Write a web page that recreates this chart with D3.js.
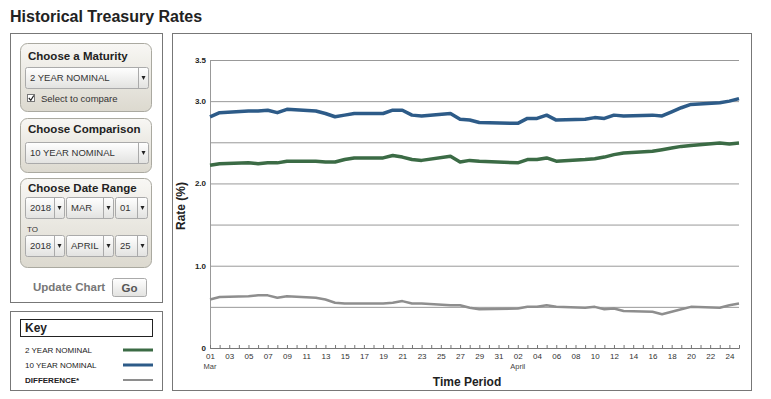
<!DOCTYPE html>
<html>
<head>
<meta charset="utf-8">
<script src="https://cdn.jsdelivr.net/npm/d3@7"></script>
<style>
  body { margin: 0; background: #fff; font-family: "Liberation Sans", Arial, sans-serif; }
  svg text { font-family: "Liberation Sans", Arial, sans-serif; }
</style>
</head>
<body>
<div id="chart"></div>
<script>
// trading days shown on the chart (2018)
var dates = [
  "2018-03-01", "2018-03-02", "2018-03-05", "2018-03-06", "2018-03-07", "2018-03-08", "2018-03-09",
  "2018-03-12", "2018-03-13", "2018-03-14", "2018-03-15", "2018-03-16",
  "2018-03-19", "2018-03-20", "2018-03-21", "2018-03-22", "2018-03-23",
  "2018-03-26", "2018-03-27", "2018-03-28", "2018-03-29",
  "2018-04-02", "2018-04-03", "2018-04-04", "2018-04-05", "2018-04-06",
  "2018-04-09", "2018-04-10", "2018-04-11", "2018-04-12", "2018-04-13",
  "2018-04-16", "2018-04-17", "2018-04-18", "2018-04-19", "2018-04-20",
  "2018-04-23", "2018-04-24", "2018-04-25"
];
var tenYear = [
  2.81, 2.86, 2.88, 2.88, 2.89, 2.86, 2.90,
  2.88, 2.85, 2.81, 2.83, 2.85,
  2.85, 2.89, 2.89, 2.83, 2.82,
  2.85, 2.78, 2.77, 2.74,
  2.73, 2.79, 2.79, 2.83, 2.77,
  2.78, 2.80, 2.79, 2.83, 2.82,
  2.83, 2.82, 2.87, 2.92, 2.96,
  2.98, 3.00, 3.03
];
var twoYear = [
  2.22, 2.24, 2.25, 2.24, 2.25, 2.25, 2.27,
  2.27, 2.26, 2.26, 2.29, 2.31,
  2.31, 2.34, 2.32, 2.29, 2.28,
  2.33, 2.26, 2.28, 2.27,
  2.25, 2.29, 2.29, 2.31, 2.27,
  2.29, 2.30, 2.32, 2.35, 2.37,
  2.39, 2.41, 2.43, 2.45, 2.46,
  2.49, 2.48, 2.49
];
var difference = [
  0.59, 0.62, 0.63, 0.64, 0.64, 0.61, 0.63,
  0.61, 0.59, 0.55, 0.54, 0.54,
  0.54, 0.55, 0.57, 0.54, 0.54,
  0.52, 0.52, 0.49, 0.47,
  0.48, 0.50, 0.50, 0.52, 0.50,
  0.49, 0.50, 0.47, 0.48, 0.45,
  0.44, 0.41, 0.44, 0.47, 0.50,
  0.49, 0.52, 0.54
];
var yTicks = [0, 0.5, 1, 1.5, 2, 2.5, 3, 3.5];
var yLabels = { "0": "0", "1": "1.0", "2": "2.0", "3": "3.0", "3.5": "3.5" };
var keyLabels = ["2 YEAR NOMINAL", "10 YEAR NOMINAL", "DIFFERENCE*"];
var keyColors = ["#3b6b45", "#2d5b88", "#8e8e8e"];

var width = 771, height = 399;
var svg = d3.select("#chart").append("svg").attr("width", width).attr("height", height);

var defs = svg.append("defs");
var pg = defs.append("linearGradient").attr("id", "panelGrad").attr("x1", 0).attr("y1", 0).attr("x2", 0).attr("y2", 1);
pg.append("stop").attr("offset", "0%").attr("stop-color", "#f8f7f4");
pg.append("stop").attr("offset", "100%").attr("stop-color", "#dcd9cf");
var sg = defs.append("linearGradient").attr("id", "selGrad").attr("x1", 0).attr("y1", 0).attr("x2", 0).attr("y2", 1);
sg.append("stop").attr("offset", "0%").attr("stop-color", "#ffffff");
sg.append("stop").attr("offset", "100%").attr("stop-color", "#e2e2e0");

// title
svg.append("text").attr("x", 10).attr("y", 22).text("Historical Treasury Rates")
  .style("font-size", "16px").style("font-weight", "bold").style("fill", "#222");

// left control panel
svg.append("rect").attr("x", 10.5).attr("y", 33.5).attr("width", 152).attr("height", 269)
  .style("fill", "#fff").style("stroke", "#777");

// rounded panel with bold heading; dy = heading baseline offset
function panel(y, h, title, dy) {
  svg.append("rect").attr("x", 20.5).attr("y", y + 0.5).attr("width", 131).attr("height", h)
    .attr("rx", 7).style("fill", "url(#panelGrad)").style("stroke", "#aaa9a0");
  svg.append("text").attr("x", 28).attr("y", y + dy).text(title)
    .style("font-size", "11.5px").style("font-weight", "bold").style("fill", "#222");
}

function selectBox(x, y, w, label) {
  svg.append("rect").attr("x", x + 0.5).attr("y", y + 0.5).attr("width", w).attr("height", 21)
    .attr("rx", 2).style("fill", "url(#selGrad)").style("stroke", "#aaa");
  svg.append("line").attr("x1", x + w - 9.5).attr("x2", x + w - 9.5).attr("y1", y + 1).attr("y2", y + 21)
    .style("stroke", "#aaa");
  svg.append("path")
    .attr("d", "M" + (x + w - 6.5) + "," + (y + 9) + "l4,0l-2,4z")
    .style("fill", "#222");
  svg.append("text").attr("x", x + 5).attr("y", y + 14).text(label)
    .style("font-size", "9.5px").style("fill", "#333");
}

panel(43, 68, "Choose a Maturity", 16.5);
selectBox(25, 67, 123, "2 YEAR NOMINAL");
svg.append("rect").attr("x", 27.5).attr("y", 94.5).attr("width", 7).attr("height", 7)
  .style("fill", "#fff").style("stroke", "#777");
svg.append("path").attr("d", "M28.8,98 l2,2.3 l3,-4.8").style("fill", "none").style("stroke", "#222").style("stroke-width", 1.2);
svg.append("text").attr("x", 41).attr("y", 102).text("Select to compare")
  .style("font-size", "9.5px").style("fill", "#333");

panel(118, 54, "Choose Comparison", 15);
selectBox(25, 142, 123, "10 YEAR NOMINAL");

panel(178, 89, "Choose Date Range", 14);
selectBox(25, 197, 39, "2018");
selectBox(66, 197, 47, "MAR");
selectBox(115, 197, 32, "01");
svg.append("text").attr("x", 27).attr("y", 232).text("TO").style("font-size", "8px").style("fill", "#333");
selectBox(25, 235, 39, "2018");
selectBox(66, 235, 47, "APRIL");
selectBox(115, 235, 32, "25");

svg.append("text").attr("x", 33).attr("y", 291).text("Update Chart")
  .style("font-size", "11.5px").style("font-weight", "bold").style("fill", "#777");
svg.append("rect").attr("x", 112.5).attr("y", 278.5).attr("width", 34).attr("height", 18).attr("rx", 2)
  .style("fill", "url(#selGrad)").style("stroke", "#aaa");
svg.append("text").attr("x", 129.5).attr("y", 291.5).attr("text-anchor", "middle").text("Go")
  .style("font-size", "11.5px").style("font-weight", "bold").style("fill", "#555");

// key box
svg.append("rect").attr("x", 10.5).attr("y", 311.5).attr("width", 152).attr("height", 79)
  .style("fill", "#fff").style("stroke", "#777");
svg.append("rect").attr("x", 20.5).attr("y", 319.5).attr("width", 132).attr("height", 17)
  .style("fill", "#fff").style("stroke", "#222");
svg.append("text").attr("x", 25).attr("y", 332).text("Key")
  .style("font-size", "12px").style("font-weight", "bold").style("fill", "#222");
keyLabels.forEach(function (d, i) {
  var yy = 353 + i * 15;
  svg.append("text").attr("x", 25).attr("y", yy).text(d)
    .style("font-size", "8px").style("fill", "#222")
    .style("font-weight", i == 2 ? "bold" : "normal");
  svg.append("line").attr("x1", 123).attr("x2", 153).attr("y1", yy - 3).attr("y2", yy - 3)
    .style("stroke", keyColors[i]).style("stroke-width", i == 2 ? 2 : 3);
});

// chart box
svg.append("rect").attr("x", 172.5).attr("y", 33.5).attr("width", 579).attr("height", 357)
  .style("fill", "#fff").style("stroke", "#777");

var parse = d3.timeParse("%Y-%m-%d");
var parsedDates = dates.map(parse);
var x = d3.scaleTime().domain([parse("2018-03-01"), parse("2018-04-25")]).range([210, 739]);
var y = d3.scaleLinear().domain([0, 3.5]).range([348, 60]);

// horizontal grid + y axis
var yAxis = d3.axisLeft(y).tickValues(yTicks).tickSize(-(739 - 210)).tickPadding(4)
  .tickFormat(function (d) { return yLabels[String(d)] || ""; });
var gy = svg.append("g").attr("transform", "translate(210,0)").call(yAxis);
gy.select(".domain").style("stroke", "#999");
gy.selectAll(".tick line").style("stroke", "#999");
gy.selectAll(".tick text").style("font-size", "8px").style("font-weight", "bold").style("fill", "#222");

// x axis
var xAxis = d3.axisBottom(x).ticks(d3.timeDay.every(1)).tickSize(-3).tickPadding(5)
  .tickFormat(function (d) {
    var idx = d3.timeDay.count(parse("2018-03-01"), d);
    return idx % 2 == 0 ? d3.timeFormat("%d")(d) : "";
  });
var gx = svg.append("g").attr("transform", "translate(0,348)").call(xAxis);
gx.select(".domain").style("stroke", "#777");
gx.selectAll(".tick line").style("stroke", "#777");
gx.selectAll(".tick text").style("font-size", "8px").style("fill", "#333");

svg.append("text").attr("x", x(parse("2018-03-01"))).attr("y", 369).attr("text-anchor", "middle")
  .text("Mar").style("font-size", "7.5px").style("fill", "#444");
svg.append("text").attr("x", x(parse("2018-04-02"))).attr("y", 369).attr("text-anchor", "middle")
  .text("April").style("font-size", "7.5px").style("fill", "#444");

svg.append("text").attr("x", 467).attr("y", 386).attr("text-anchor", "middle").text("Time Period")
  .style("font-size", "12px").style("font-weight", "bold").style("fill", "#222");
svg.append("text").attr("transform", "translate(185,206) rotate(-90)").attr("text-anchor", "middle")
  .text("Rate (%)").style("font-size", "12px").style("font-weight", "bold").style("fill", "#222");

// series lines
var line = d3.line()
  .x(function (d, i) { return x(parsedDates[i]); })
  .y(function (d) { return y(d); });

svg.append("path").datum(difference).attr("d", line)
  .style("fill", "none").style("stroke", "#8e8e8e").style("stroke-width", 2.5).style("stroke-linejoin", "round");
svg.append("path").datum(twoYear).attr("d", line)
  .style("fill", "none").style("stroke", "#3b6b45").style("stroke-width", 3.5).style("stroke-linejoin", "round");
svg.append("path").datum(tenYear).attr("d", line)
  .style("fill", "none").style("stroke", "#2d5b88").style("stroke-width", 3.5).style("stroke-linejoin", "round");
</script>
</body>
</html>
